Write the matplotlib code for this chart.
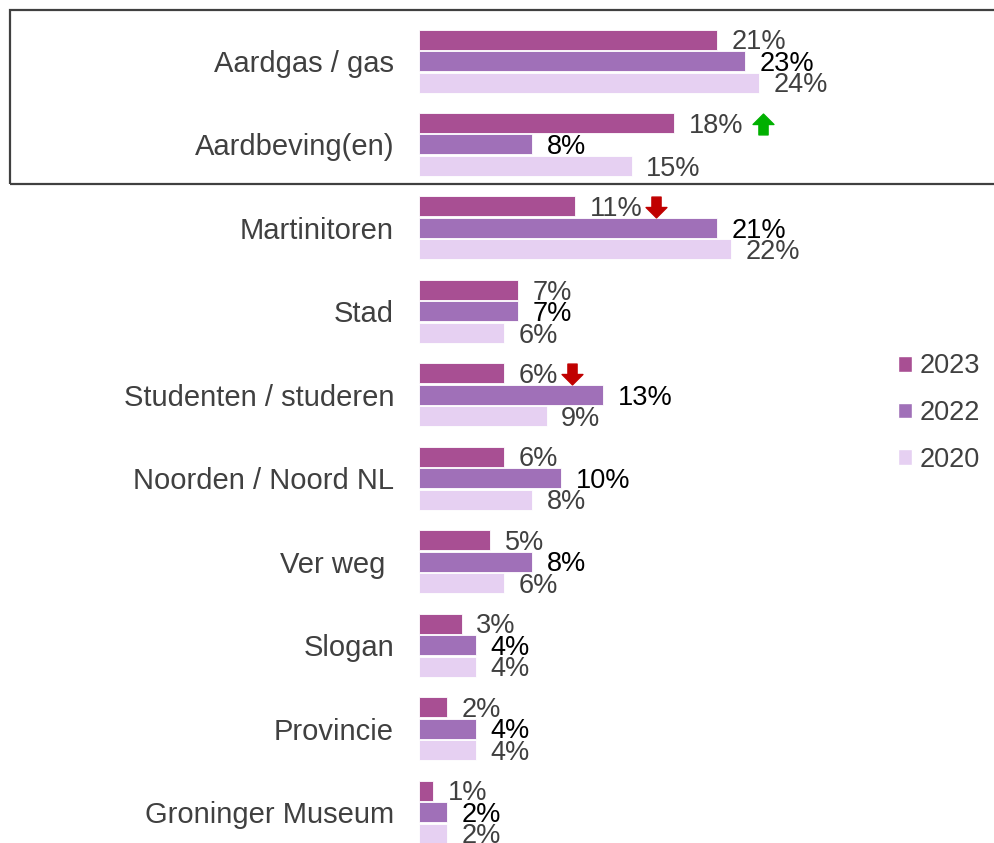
import matplotlib.pyplot as plt
import numpy as np
from matplotlib.patches import Patch, Rectangle
from matplotlib.path import Path

plt.rcParams['font.family'] = ['Liberation Sans', 'DejaVu Sans']

categories = ['Aardgas / gas', 'Aardbeving(en)', 'Martinitoren', 'Stad',
              'Studenten / studeren', 'Noorden / Noord NL', 'Ver weg ', 'Slogan',
              'Provincie', 'Groninger Museum']
years = ['2023', '2022', '2020']
v2023 = [21, 18, 11, 7, 6, 6, 5, 3, 2, 1]
v2022 = [23, 8, 21, 7, 13, 10, 8, 4, 4, 2]
v2020 = [24, 15, 22, 6, 9, 8, 6, 4, 4, 2]
# significant changes on the 2023 series (category index -> direction)
changes = {1: 'up', 2: 'down', 4: 'down'}

colors = ['#a84f93', '#a070b8', '#e6d0f2']
label_colors = ['#404040', '#000000', '#404040']
text_gray = '#404040'

fig = plt.figure(figsize=(9.95, 8.43), dpi=100)
ax = fig.add_axes([419 / 995, 0, 1 - 419 / 995, 1])

W, H = 995, 843
px_per_unit = (812 - 61) / 9
ax.set_ylim(9 + (H - 812) / px_per_unit, -61 / px_per_unit)
ax.set_xlim(0, (W - 419) / 14.18)

pitch = 21.5 / px_per_unit
bh = 20 / px_per_unit
y = np.arange(len(categories))
series = [v2023, v2022, v2020]
texts = {}
for k, vals in enumerate(series):
    ys = y + (k - 1) * pitch
    ax.barh(ys, vals, height=bh, color=colors[k], edgecolor='white', linewidth=0.6)
    for i, v in enumerate(vals):
        t = ax.annotate(f'{v}%', xy=(v, ys[i]), xytext=(10.5, -7), textcoords='offset points',
                        va='baseline', ha='left', fontsize=19.5, color=label_colors[k],
                        annotation_clip=False)
        if k == 0:
            texts[i] = t

ax.set_yticks(y)
ax.set_yticklabels(categories, fontsize=21, color=text_gray)
ax.tick_params(axis='y', length=0, pad=18)
ax.set_xticks([])
for s in ax.spines.values():
    s.set_visible(False)

# arrows for significant changes
up = Path([(-0.22, -0.5), (0.22, -0.5), (0.22, 0.0), (0.5, 0.0), (0.0, 0.5),
           (-0.5, 0.0), (-0.22, 0.0), (-0.22, -0.5)],
          [Path.MOVETO] + [Path.LINETO] * 6 + [Path.CLOSEPOLY])
down = Path(up.vertices * np.array([1, -1]), up.codes)
fig.canvas.draw()
r = fig.canvas.get_renderer()
for i, d in changes.items():
    bb = texts[i].get_window_extent(r)
    gap = 20 if d == 'up' else 14
    xd = ax.transData.inverted().transform((bb.x1 + gap, 0))[0]
    ax.plot(xd, i - pitch + 0.01, marker=up if d == 'up' else down, markersize=15,
            color='#00b000' if d == 'up' else '#c00000', clip_on=False)

# frame around the first two categories
fig.patches.append(Rectangle((10 / W, 1 - 184 / H), 1.0, (184 - 10) / H,
                             transform=fig.transFigure, fill=False,
                             edgecolor=text_gray, linewidth=1.6))

handles = [Patch(facecolor=c, edgecolor='white') for c in colors]
fig.legend(handles, years, loc='center left', bbox_to_anchor=(874 / W, 1 - 413 / H),
           frameon=False, fontsize=19.5, handlelength=0.5, handleheight=0.5,
           handletextpad=0.3, labelspacing=0.76, labelcolor=text_gray)

fig.savefig('out.png', dpi=100)
